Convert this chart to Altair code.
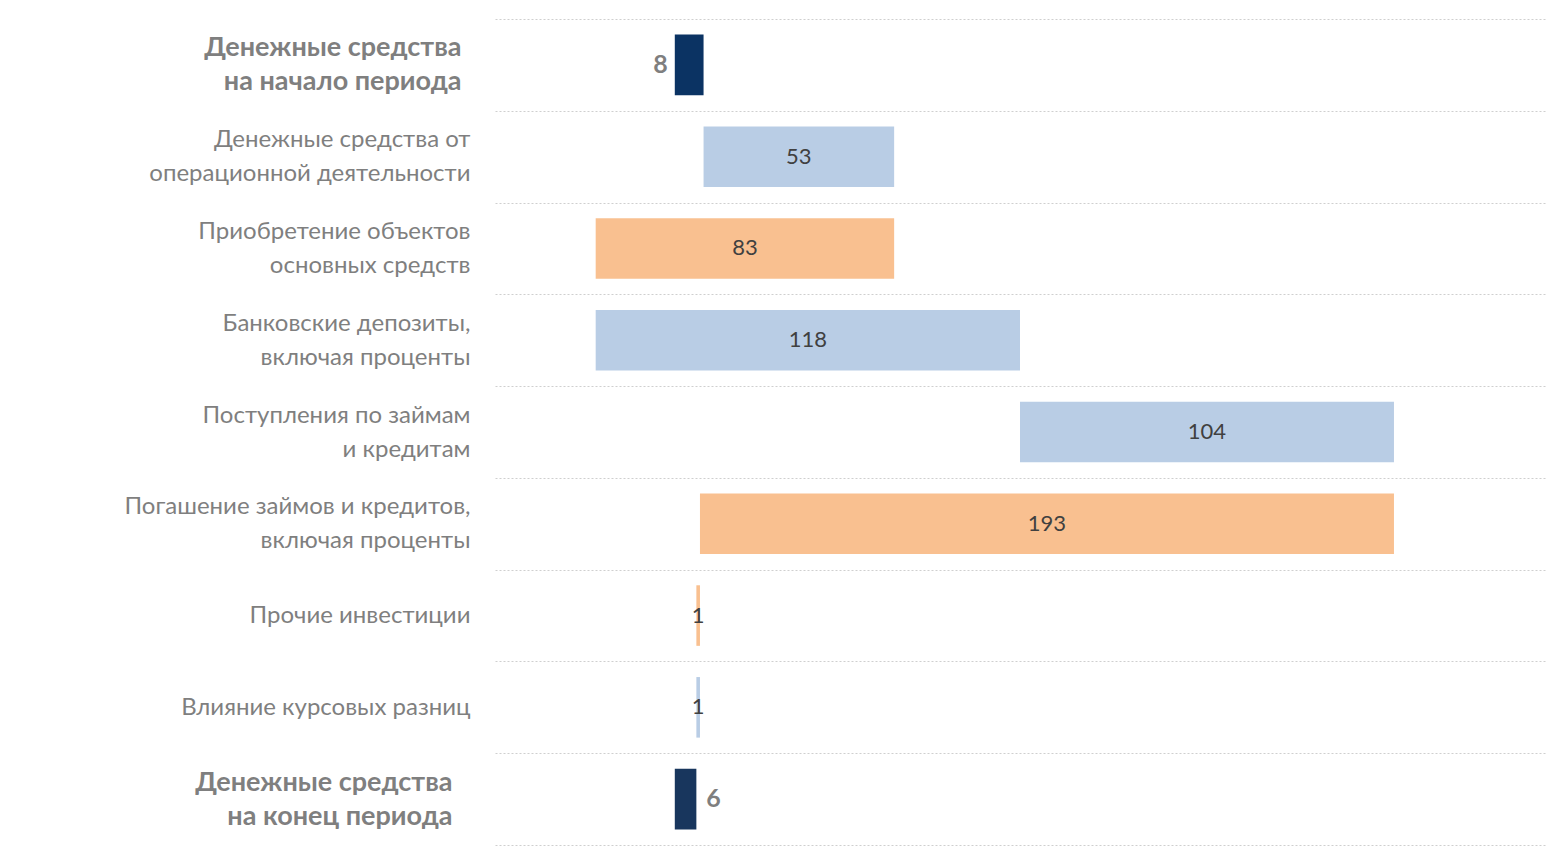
import altair as alt
import pandas as pd

categories = [
    "Денежные средства|на начало периода",
    "Денежные средства от|операционной деятельности",
    "Приобретение объектов|основных средств",
    "Банковские депозиты,|включая проценты",
    "Поступления по займам|и кредитам",
    "Погашение займов и кредитов,|включая проценты",
    "Прочие инвестиции",
    "Влияние курсовых разниц",
    "Денежные средства|на конец периода",
]
values = [8, 53, -83, 118, 104, -193, -1, 1, 6]
kinds = ["start", "up", "down", "up", "up", "down", "down", "up", "end"]

rows = []
running = 0
for cat, v, k in zip(categories, values, kinds):
    if k in ("start", "end"):
        s, e = 0, v
        running = v if k == "start" else running
    else:
        s, e = running, running + v
        running = e
    rows.append({"cat": cat, "start": s, "end": e, "mid": (s + e) / 2,
                 "label": str(abs(v)), "kind": k})
df = pd.DataFrame(rows)

first_test = "datum.value == '%s'" % categories[0]
last_test = "datum.value == '%s'" % categories[-1]
bold_test = "%s || %s" % (first_test, last_test)
one_line_test = " || ".join("datum.value == '%s'" % c for c in categories if "|" not in c)

y_enc = alt.Y(
    "cat:N", sort=categories, title=None,
    scale=alt.Scale(paddingInner=0, paddingOuter=0),
    axis=alt.Axis(
        labelExpr="split(datum.label, '|')",
        labelFont="Lato", labelLineHeight=34,
        labelFontSize={"condition": {"test": bold_test, "value": 27}, "value": 24},
        labelColor="#7f7f7f", labelLimit=480,
        labelPadding={"condition": [{"test": first_test, "value": 34},
                                    {"test": last_test, "value": 43}], "value": 25},
        labelBaseline={"condition": {"test": one_line_test, "value": "middle"},
                       "value": "line-bottom"},
        labelFontWeight={"condition": {"test": bold_test, "value": "bold"}, "value": "normal"},
        ticks=False, domain=False, grid=True, tickBand="extent",
        gridColor="#cfcfcf", gridDash=[2, 2], gridWidth=1,
        minExtent=487, maxExtent=487,
    ),
)
x_scale = alt.Scale(domain=[-50, 242], nice=False, zero=False)

base = alt.Chart(df)

bars = base.mark_bar(height=alt.RelativeBandSize(0.66)).encode(
    y=y_enc,
    x=alt.X("start:Q", scale=x_scale, axis=None, title=None),
    x2="end:Q",
    color=alt.Color(
        "kind:N", legend=None,
        scale=alt.Scale(domain=["start", "up", "down", "end"],
                        range=["#0b3363", "#b9cde5", "#f9c090", "#18365d"]),
    ),
)

mid_text = base.transform_filter("datum.kind == 'up' || datum.kind == 'down'").mark_text(
    font="Lato", fontSize=22, color="#404040", align="center", baseline="middle"
).encode(y=alt.Y("cat:N", sort=categories), x=alt.X("mid:Q", scale=x_scale), text="label:N")

start_text = base.transform_filter("datum.kind == 'start'").mark_text(
    font="Lato", fontSize=25, fontWeight="bold", color="#7f7f7f", align="right",
    baseline="middle", dx=-7
).encode(y=alt.Y("cat:N", sort=categories), x=alt.X("start:Q", scale=x_scale), text="label:N")

end_text = base.transform_filter("datum.kind == 'end'").mark_text(
    font="Lato", fontSize=25, fontWeight="bold", color="#7f7f7f", align="left",
    baseline="middle", dx=10
).encode(y=alt.Y("cat:N", sort=categories), x=alt.X("end:Q", scale=x_scale), text="label:N")

chart = alt.layer(bars, mid_text, start_text, end_text).properties(
    width=1050, height=826,
    background="white",
    autosize=alt.AutoSizeParams(type="none"),
    padding={"left": 487, "top": 11, "right": 4, "bottom": 2},
).configure_view(strokeWidth=0)

chart.save("out.html", embed_options={"renderer": "svg", "actions": False})
